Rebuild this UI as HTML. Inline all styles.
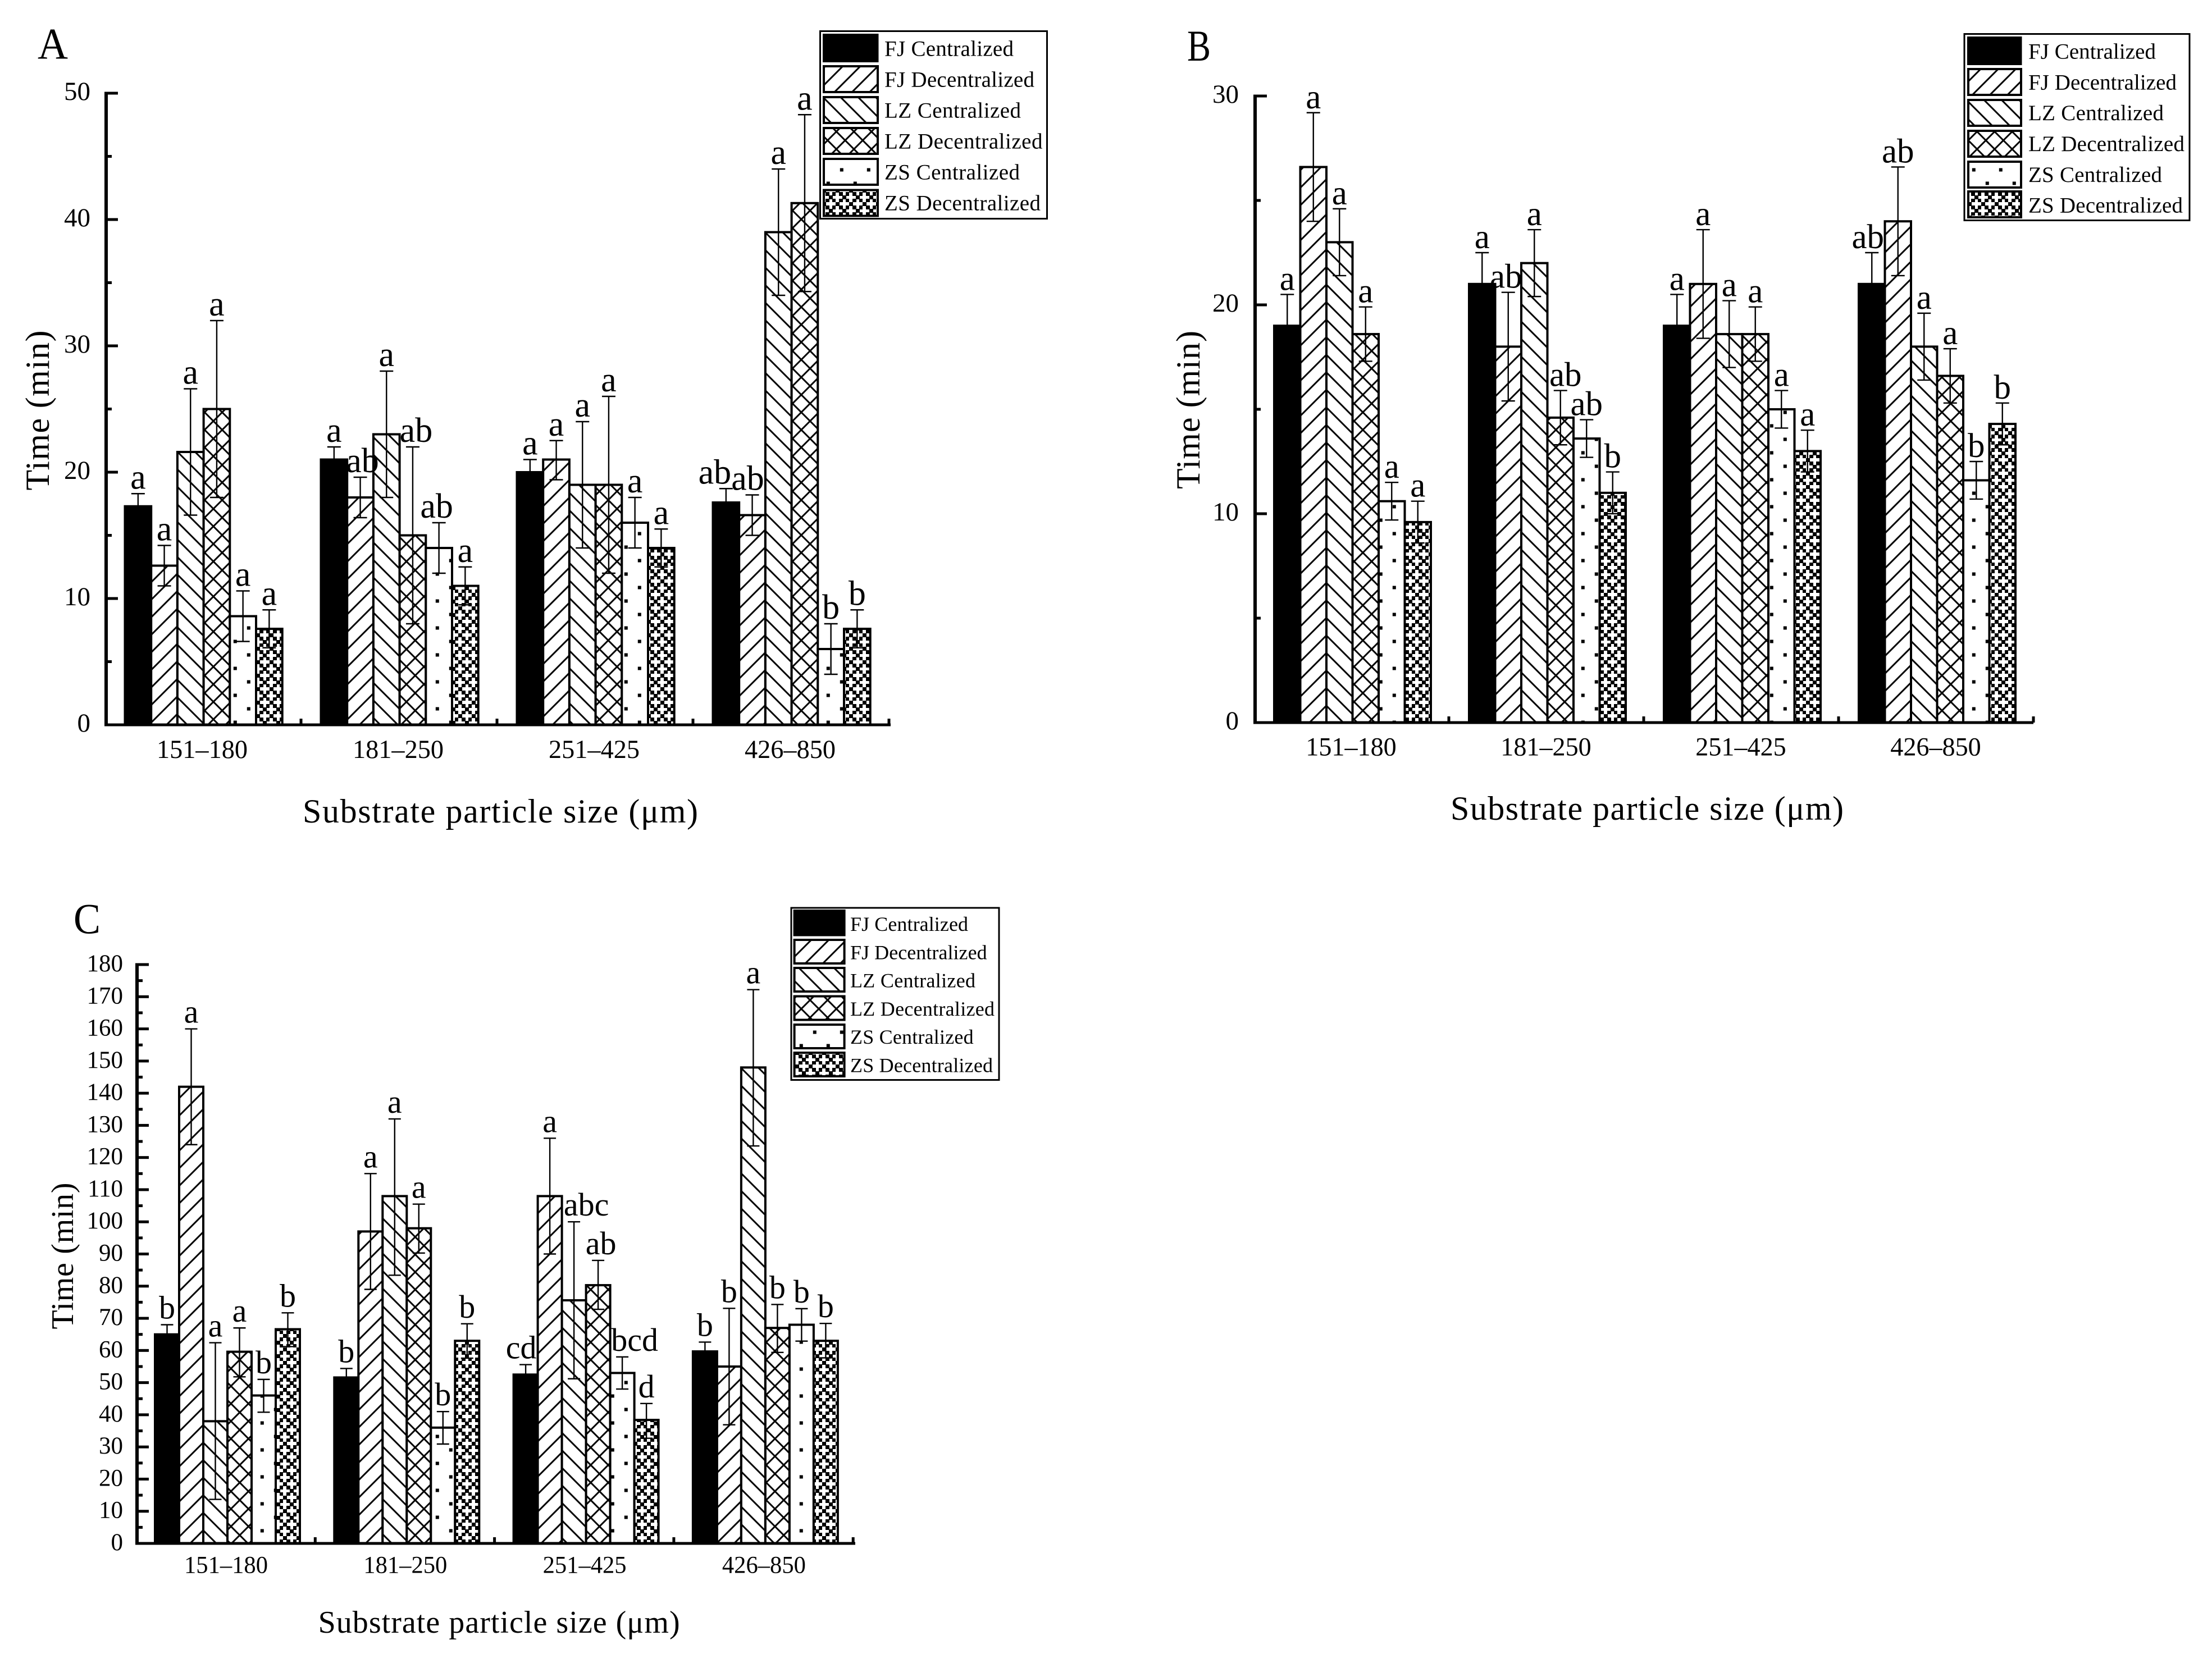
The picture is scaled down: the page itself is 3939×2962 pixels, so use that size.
<!DOCTYPE html>
<html lang="en">
<head>
<meta charset="utf-8">
<title>Time by substrate particle size</title>
<style>
html,body{margin:0;padding:0;background:#fff;}
svg{display:block;}
text{font-family:"Liberation Serif",serif;fill:#000;}
</style>
</head>
<body>
<svg id="figure" xmlns="http://www.w3.org/2000/svg" width="3939" height="2962" viewBox="0 0 3939 2962">
<defs>
<pattern id="p-fill-0" patternUnits="userSpaceOnUse" width="8" height="8"><rect width="8" height="8" fill="#000"/></pattern>
<pattern id="p-fill-1" patternUnits="userSpaceOnUse" width="31.25" height="31.25" patternTransform="translate(25 0)"><rect width="31.25" height="31.25" fill="#fff"/><path d="M-5 36.25L36.25 -5M-5 5L5 -5M26.25 36.25L36.25 26.25" stroke="#000" stroke-width="3" fill="none"/></pattern>
<pattern id="p-fill-2" patternUnits="userSpaceOnUse" width="31.25" height="31.25" patternTransform="translate(0 20)"><rect width="31.25" height="31.25" fill="#fff"/><path d="M-5 -5L36.25 36.25M-5 26.25L5 36.25M26.25 -5L36.25 5" stroke="#000" stroke-width="3" fill="none"/></pattern>
<pattern id="p-fill-3" patternUnits="userSpaceOnUse" width="31.25" height="31.25" patternTransform="translate(5 0)"><rect width="31.25" height="31.25" fill="#fff"/><path d="M-5 36.25L36.25 -5M-5 5L5 -5M26.25 36.25L36.25 26.25M-5 -5L36.25 36.25M-5 26.25L5 36.25M26.25 -5L36.25 5" stroke="#000" stroke-width="3" fill="none"/></pattern>
<pattern id="p-fill-4" patternUnits="userSpaceOnUse" width="48" height="48"><rect width="48" height="48" fill="#fff"/><rect x="7.8" y="11.5" width="6" height="6" fill="#000"/><rect x="31.8" y="35.5" width="6" height="6" fill="#000"/></pattern>
<pattern id="p-fill-5" patternUnits="userSpaceOnUse" width="24" height="24"><rect width="24" height="24" fill="#fff"/><rect x="0" y="0" width="7" height="7" fill="#000"/><rect x="6" y="6" width="7" height="7" fill="#000"/><rect x="12" y="12" width="7" height="7" fill="#000"/><rect x="18" y="6" width="6" height="7" fill="#000"/><rect x="6" y="18" width="7" height="6" fill="#000"/><rect x="18" y="18" width="6" height="6" fill="#000"/></pattern>
</defs>
<rect width="3939" height="2962" fill="#fff"/>

<text x="67" y="104.6" font-size="78" textLength="54" lengthAdjust="spacingAndGlyphs">A</text>
<text x="2114" y="108" font-size="78" textLength="42" lengthAdjust="spacingAndGlyphs">B</text>
<text x="131" y="1662.5" font-size="76" textLength="48" lengthAdjust="spacingAndGlyphs">C</text>

<text transform="translate(87 731) rotate(-90)" text-anchor="middle" font-size="60" textLength="285">Time (min)</text>
<text transform="translate(2136 730) rotate(-90)" text-anchor="middle" font-size="60" textLength="282">Time (min)</text>
<text transform="translate(130 2237) rotate(-90)" text-anchor="middle" font-size="56" textLength="261">Time (min)</text>

<text x="539" y="1465" font-size="60" textLength="704">Substrate particle size (μm)</text>
<text x="2583" y="1460" font-size="60" textLength="700">Substrate particle size (μm)</text>
<text x="566.6" y="2908" font-size="56" textLength="644">Substrate particle size (μm)</text>

<g id="plot-a"></g>
<g id="plot-b"></g>
<g id="plot-c"></g>

<g>
<rect x="1460.5" y="55.5" width="404" height="334" fill="#fff" stroke="#000" stroke-width="3"/>
<g><rect x="1465" y="60" width="99.5" height="51" fill="#000"/><text x="1575" y="99.5" font-size="39" textLength="230">FJ Centralized</text></g>
<g><rect x="1467" y="118" width="96" height="46" fill="url(#p-fill-1)" stroke="#000" stroke-width="4"/><text x="1575" y="154.5" font-size="39" textLength="267">FJ Decentralized</text></g>
<g><rect x="1467" y="173" width="96" height="46" fill="url(#p-fill-2)" stroke="#000" stroke-width="4"/><text x="1575" y="209.5" font-size="39" textLength="243">LZ Centralized</text></g>
<g><rect x="1467" y="228" width="96" height="46" fill="url(#p-fill-3)" stroke="#000" stroke-width="4"/><text x="1575" y="264.5" font-size="39" textLength="281.5">LZ Decentralized</text></g>
<g><rect x="1467" y="283" width="96" height="46" fill="url(#p-fill-4)" stroke="#000" stroke-width="4"/><text x="1575" y="319.5" font-size="39" textLength="241">ZS Centralized</text></g>
<g><rect x="1467" y="338.5" width="96" height="46" fill="url(#p-fill-5)" stroke="#000" stroke-width="4"/><text x="1575" y="374.5" font-size="39" textLength="278">ZS Decentralized</text></g>
</g>

<g>
<rect x="3498" y="60.5" width="401" height="332" fill="#fff" stroke="#000" stroke-width="3"/>
<g><rect x="3503" y="65" width="97.5" height="51" fill="#000"/><text x="3612" y="104.6" font-size="39" textLength="227">FJ Centralized</text></g>
<g><rect x="3505" y="123" width="94" height="46" fill="url(#p-fill-1)" stroke="#000" stroke-width="4"/><text x="3612" y="159.4" font-size="39" textLength="264">FJ Decentralized</text></g>
<g><rect x="3505" y="178" width="94" height="46" fill="url(#p-fill-2)" stroke="#000" stroke-width="4"/><text x="3612" y="214.2" font-size="39" textLength="241">LZ Centralized</text></g>
<g><rect x="3505" y="233" width="94" height="46" fill="url(#p-fill-3)" stroke="#000" stroke-width="4"/><text x="3612" y="269" font-size="39" textLength="278">LZ Decentralized</text></g>
<g><rect x="3505" y="288" width="94" height="46" fill="url(#p-fill-4)" stroke="#000" stroke-width="4"/><text x="3612" y="323.8" font-size="39" textLength="238">ZS Centralized</text></g>
<g><rect x="3505" y="341" width="94" height="46" fill="url(#p-fill-5)" stroke="#000" stroke-width="4"/><text x="3612" y="378.6" font-size="39" textLength="275">ZS Decentralized</text></g>
</g>

<g>
<rect x="1409" y="1617" width="370" height="306.5" fill="#fff" stroke="#000" stroke-width="3"/>
<g><rect x="1412.6" y="1620" width="93" height="47.5" fill="#000"/><text x="1514" y="1658" font-size="36" textLength="210">FJ Centralized</text></g>
<g><rect x="1414.6" y="1674" width="89" height="42" fill="url(#p-fill-1)" stroke="#000" stroke-width="4"/><text x="1514" y="1708.3" font-size="36" textLength="243.6">FJ Decentralized</text></g>
<g><rect x="1414.6" y="1724" width="89" height="42" fill="url(#p-fill-2)" stroke="#000" stroke-width="4"/><text x="1514" y="1758.6" font-size="36" textLength="223">LZ Centralized</text></g>
<g><rect x="1414.6" y="1774.5" width="89" height="42" fill="url(#p-fill-3)" stroke="#000" stroke-width="4"/><text x="1514" y="1808.9" font-size="36" textLength="257">LZ Decentralized</text></g>
<g><rect x="1414.6" y="1825" width="89" height="42" fill="url(#p-fill-4)" stroke="#000" stroke-width="4"/><text x="1514" y="1859.2" font-size="36" textLength="219.6">ZS Centralized</text></g>
<g><rect x="1414.6" y="1875" width="89" height="42" fill="url(#p-fill-5)" stroke="#000" stroke-width="4"/><text x="1514" y="1909.4" font-size="36" textLength="254">ZS Decentralized</text></g>
</g>
</svg>

<script>
const categories = ['151–180', '181–250', '251–425', '426–850'];
const seriesNames = ['FJ Centralized', 'FJ Decentralized', 'LZ Centralized', 'LZ Decentralized', 'ZS Centralized', 'ZS Decentralized'];

const panelATicks = [0, 10, 20, 30, 40, 50];
const panelAMeans = [
  [17.3, 12.6, 21.6, 25, 8.6, 7.6],
  [21, 18, 23, 15, 14, 11],
  [20, 21, 19, 19, 16, 14],
  [17.6, 16.6, 39, 41.3, 6, 7.6]
];
const panelAUpper = [
  [18.3, 14.2, 26.6, 32, 10.6, 9.1],
  [22, 19.6, 28, 22, 16, 12.5],
  [21, 22.5, 24, 26, 18, 15.5],
  [18.7, 18.2, 44, 48.3, 8, 9.1]
];
const panelALower = [
  [16.3, 11, 16.6, 18, 6.6, 6.1],
  [20, 16.4, 18, 8, 12, 9.5],
  [19, 19.4, 14, 12, 14, 12.5],
  [16.5, 15, 34, 34.3, 4, 6.1]
];
const panelALetters = [
  ['a', 'a', 'a', 'a', 'a', 'a'],
  ['a', 'ab', 'a', 'ab', 'ab', 'a'],
  ['a', 'a', 'a', 'a', 'a', 'a'],
  ['ab', 'ab', 'a', 'a', 'b', 'b']
];

const panelBTicks = [0, 10, 20, 30];
const panelBMeans = [
  [19, 26.6, 23, 18.6, 10.6, 9.6],
  [21, 18, 22, 14.6, 13.6, 11],
  [19, 21, 18.6, 18.6, 15, 13],
  [21, 24, 18, 16.6, 11.6, 14.3]
];
const panelBUpper = [
  [20.5, 29.2, 24.6, 19.9, 11.5, 10.6],
  [22.5, 20.6, 23.6, 15.9, 14.5, 12],
  [20.5, 23.6, 20.2, 19.9, 15.9, 14],
  [22.5, 26.6, 19.6, 17.9, 12.5, 15.3]
];
const panelBLower = [
  [17.5, 24, 21.4, 17.3, 9.7, 8.6],
  [19.5, 15.4, 20.4, 13.3, 12.7, 10],
  [17.5, 18.4, 17, 17.3, 14.1, 12],
  [19.5, 21.4, 16.4, 15.3, 10.7, 13.3]
];
const panelBLetters = [
  ['a', 'a', 'a', 'a', 'a', 'a'],
  ['a', 'ab', 'a', 'ab', 'ab', 'b'],
  ['a', 'a', 'a', 'a', 'a', 'a'],
  ['ab', 'ab', 'a', 'a', 'b', 'b']
];

const panelCTicks = [0, 10, 20, 30, 40, 50, 60, 70, 80, 90, 100, 110, 120, 130, 140, 150, 160, 170, 180];
const panelCMeans = [
  [65, 142, 38, 59.6, 46, 66.6],
  [51.6, 97, 108, 98, 36, 63],
  [52.5, 108, 75.6, 80.3, 53, 38.4],
  [59.7, 55, 148, 67, 68, 63]
];
const panelCUpper = [
  [68, 160, 62.4, 67, 51, 71.7],
  [54.4, 115, 132, 105.5, 41, 68.3],
  [55.6, 126, 100, 88, 58, 43.5],
  [62.6, 73.1, 172.2, 74.3, 73, 68.4]
];
const panelCLower = [
  [62, 124, 13.7, 51.8, 40.8, 61.2],
  [48.8, 79, 83.4, 90.3, 30.9, 57.6],
  [49.4, 90, 51.2, 72.8, 48, 32.7],
  [56.8, 36.9, 123.6, 59.4, 62.9, 57.7]
];
const panelCLetters = [
  ['b', 'a', 'a', 'a', 'b', 'b'],
  ['b', 'a', 'a', 'a', 'b', 'b'],
  ['cd', 'a', 'abc', 'ab', 'bcd', 'd'],
  ['b', 'b', 'a', 'b', 'b', 'b']
];

const SVG_NS = 'http://www.w3.org/2000/svg';

function make(tag, attrs, parent, content) {
  const node = document.createElementNS(SVG_NS, tag);
  Object.keys(attrs).forEach(function (k) { node.setAttribute(k, attrs[k]); });
  if (content !== undefined) node.textContent = content;
  parent.appendChild(node);
  return node;
}

function drawPanel(layout, ticks, means, upper, lower, letters) {
  const root = document.getElementById(layout.id);
  const maxTick = ticks[ticks.length - 1];
  const yScale = function (v) { return layout.yZero - v * (layout.yZero - layout.yTop) / maxTick; };
  const xScale = function (g, s) { return layout.xStart + g * layout.period + s * layout.barWidth; };

  categories.forEach(function (category, g) {
    seriesNames.forEach(function (name, s) {
      const top = yScale(means[g][s]);
      const bar = make('rect', {
        x: xScale(g, s), y: top,
        width: layout.barWidth, height: layout.yZero - top,
        fill: 'url(#p-fill-' + s + ')', stroke: '#000', 'stroke-width': 4
      }, root);
      
      
    });
  });

  categories.forEach(function (category, g) {
    seriesNames.forEach(function (name, s) {
      const cx = xScale(g, s) + layout.barWidth / 2;
      const yHi = yScale(upper[g][s]);
      const yLo = yScale(lower[g][s]);
      const err = make('path', {
        d: 'M' + cx + ' ' + yHi + 'V' + yLo +
           'M' + (cx - layout.capHalf) + ' ' + yHi + 'H' + (cx + layout.capHalf) +
           'M' + (cx - layout.capHalf) + ' ' + yLo + 'H' + (cx + layout.capHalf),
        stroke: '#000', 'stroke-width': 2.4, fill: 'none'
      }, root);
      
      

      const nudge = layout.labelNudges[g + '-' + s] || 0;
      const letter = make('text', {
        x: cx + nudge, y: yHi - layout.labelGap,
        'text-anchor': 'middle', 'font-size': layout.letterSize
      }, root, letters[g][s]);
      
      
    });

    const label = make('text', {
      x: layout.xLabelCenter + g * layout.period, y: layout.xLabelBaseline,
      'text-anchor': 'middle', 'font-size': layout.tickSize,
      textLength: layout.xLabelWidth, lengthAdjust: 'spacingAndGlyphs'
    }, root, category);
    
    

    const xTick = make('rect', {
      x: layout.axisX - 4.5 + (g + 1) * layout.period, y: layout.yZero - 11,
      width: 5, height: 11, fill: '#000'
    }, root);
    
    
  });

  const xAxis = make('rect', {
    x: layout.axisX - 3, y: layout.yZero - 2.5,
    width: layout.axisRight - layout.axisX + 3, height: 5, fill: '#000'
  }, root);
  
  

  const yAxis = make('rect', {
    x: layout.axisX - 3, y: yScale(maxTick) - 2.5,
    width: 6, height: layout.yZero - yScale(maxTick) + 5, fill: '#000'
  }, root);
  
  

  ticks.forEach(function (tick, i) {
    const major = make('rect', {
      x: layout.axisX, y: yScale(tick) - 2.5, width: 21, height: 5, fill: '#000'
    }, root);
    
    

    const label = make('text', {
      x: layout.yLabelRight, y: yScale(tick) + 12,
      'text-anchor': 'end', 'font-size': layout.tickSize
    }, root, String(tick));
    
    

    if (i < ticks.length - 1) {
      const minor = make('rect', {
        x: layout.axisX, y: yScale((tick + ticks[i + 1]) / 2) - 2.5, width: 10, height: 5, fill: '#000'
      }, root);
      
      
    }
  });
}

drawPanel({
  id: 'plot-a', axisX: 189, axisRight: 1586, yZero: 1291, yTop: 166,
  xStart: 222.5, period: 349, barWidth: 46.7, capHalf: 12,
  letterSize: 62, labelGap: 9, tickSize: 47, yLabelRight: 161,
  xLabelCenter: 360, xLabelBaseline: 1350, xLabelWidth: 162,
  labelNudges: { '1-1': 4, '1-3': 6, '1-4': -4, '3-0': -20, '3-1': -8 }
}, panelATicks, panelAMeans, panelAUpper, panelALower, panelALetters);

drawPanel({
  id: 'plot-b', axisX: 2235, axisRight: 3621, yZero: 1287, yTop: 171,
  xStart: 2269, period: 347, barWidth: 46.5, capHalf: 12,
  letterSize: 61, labelGap: 8, tickSize: 47, yLabelRight: 2206,
  xLabelCenter: 2406, xLabelBaseline: 1345.5, xLabelWidth: 161.5,
  labelNudges: { '1-1': -4, '1-3': 9, '3-0': -7 }
}, panelBTicks, panelBMeans, panelBUpper, panelBLower, panelBLetters);

drawPanel({
  id: 'plot-c', axisX: 244, axisRight: 1523, yZero: 2749, yTop: 1718,
  xStart: 276, period: 319.3, barWidth: 43, capHalf: 11,
  letterSize: 58, labelGap: 11, tickSize: 43, yLabelRight: 219,
  xLabelCenter: 402.5, xLabelBaseline: 2801.5, xLabelWidth: 149,
  labelNudges: { '2-0': -8, '2-2': 22, '2-3': 5, '2-4': 22 }
}, panelCTicks, panelCMeans, panelCUpper, panelCLower, panelCLetters);
</script>
</body>
</html>
